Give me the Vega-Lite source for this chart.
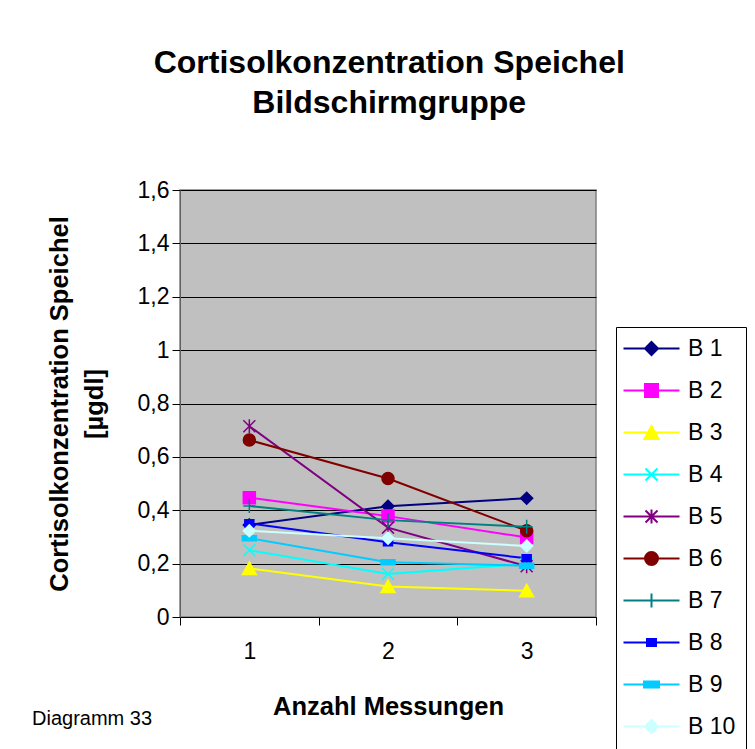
{
  "$schema": "https://vega.github.io/schema/vega-lite/v6.json",
  "background": "white",
  "padding": {"left": 31, "top": 47, "right": 0, "bottom": 0},
  "title": {
    "text": ["Cortisolkonzentration Speichel", "Bildschirmgruppe"],
    "font": "Liberation Sans",
    "fontSize": 32,
    "fontWeight": "bold",
    "lineHeight": 40,
    "color": "black",
    "anchor": "middle",
    "offset": 58,
    "dx": 0
  },
  "config": {
    "font": "Liberation Sans",
    "view": {"fill": "#C0C0C0", "stroke": "#808080", "strokeWidth": 1.5}
  },
  "data": {
    "values": [
      {"series": "B 1", "m": 1, "v": 0.345}, {"series": "B 1", "m": 2, "v": 0.415}, {"series": "B 1", "m": 3, "v": 0.445},
      {"series": "B 2", "m": 1, "v": 0.447}, {"series": "B 2", "m": 2, "v": 0.378}, {"series": "B 2", "m": 3, "v": 0.298},
      {"series": "B 3", "m": 1, "v": 0.182}, {"series": "B 3", "m": 2, "v": 0.114}, {"series": "B 3", "m": 3, "v": 0.098},
      {"series": "B 4", "m": 1, "v": 0.250}, {"series": "B 4", "m": 2, "v": 0.161}, {"series": "B 4", "m": 3, "v": 0.200},
      {"series": "B 5", "m": 1, "v": 0.715}, {"series": "B 5", "m": 2, "v": 0.335}, {"series": "B 5", "m": 3, "v": 0.190},
      {"series": "B 6", "m": 1, "v": 0.663}, {"series": "B 6", "m": 2, "v": 0.519}, {"series": "B 6", "m": 3, "v": 0.323},
      {"series": "B 7", "m": 1, "v": 0.416}, {"series": "B 7", "m": 2, "v": 0.363}, {"series": "B 7", "m": 3, "v": 0.338},
      {"series": "B 8", "m": 1, "v": 0.351}, {"series": "B 8", "m": 2, "v": 0.280}, {"series": "B 8", "m": 3, "v": 0.220},
      {"series": "B 9", "m": 1, "v": 0.295}, {"series": "B 9", "m": 2, "v": 0.205}, {"series": "B 9", "m": 3, "v": 0.192},
      {"series": "B 10", "m": 1, "v": 0.323}, {"series": "B 10", "m": 2, "v": 0.295}, {"series": "B 10", "m": 3, "v": 0.266}
    ]
  },
  "vconcat": [
    {
      "width": 416,
      "height": 427,
      "title": {
        "text": "Diagramm 33",
        "orient": "bottom",
        "anchor": "start",
        "font": "Liberation Sans",
        "fontSize": 20,
        "fontWeight": "normal",
        "color": "black",
        "dx": -15,
        "dy": -45
      },
      "encoding": {
        "x": {
          "field": "m",
          "type": "ordinal",
          "scale": {"type": "band", "paddingInner": 0, "paddingOuter": 0},
          "axis": {
            "title": "Anzahl Messungen",
            "titleFont": "Liberation Sans",
            "titleFontSize": 25.5,
            "titleFontWeight": "bold",
            "titleColor": "black",
            "titlePadding": 31,
            "labelAngle": 0,
            "labelFontSize": 23,
            "labelColor": "black",
            "labelPadding": 15,
            "tickBand": "extent",
            "tickSize": 8,
            "tickColor": "black",
            "domainColor": "black",
            "grid": false
          }
        },
        "y": {
          "field": "v",
          "type": "quantitative",
          "scale": {"domain": [0, 1.6], "nice": false, "zero": true},
          "axis": {
            "title": ["Cortisolkonzentration Speichel", "[µgdl]"],
            "titleFont": "Liberation Sans",
            "titleFontSize": 25.5,
            "titleFontWeight": "bold",
            "titleColor": "black",
            "titleLineHeight": 35,
            "titlePadding": 30,
            "values": [0, 0.2, 0.4, 0.6, 0.8, 1, 1.2, 1.4, 1.6],
            "labelExpr": "replace(format(datum.value, '.1~f'), '.', ',')",
            "labelFontSize": 23,
            "labelColor": "black",
            "labelPadding": 3,
            "tickSize": 8,
            "tickColor": "black",
            "domainColor": "#606060",
            "grid": true,
            "gridColor": "black",
            "gridWidth": 1,
            "gridOpacity": 1
          }
        }
      },
      "layer": [
        {
          "mark": {"type": "line", "strokeWidth": 2},
          "encoding": {
            "stroke": {
              "field": "series",
              "type": "nominal",
              "scale": {
                "domain": ["B 1", "B 2", "B 3", "B 4", "B 5", "B 6", "B 7", "B 8", "B 9", "B 10"],
                "range": ["#000080", "#FF00FF", "#FFFF00", "#00FFFF", "#800080", "#800000", "#008080", "#0000FF", "#00CCFF", "#CCFFFF"]
              },
              "legend": null
            },
            "detail": {"field": "series"}
          }
        },
        {
          "mark": {"type": "point", "size": 4, "strokeWidth": 1.5, "opacity": 1},
          "encoding": {
            "fill": {
              "field": "series",
              "type": "nominal",
              "scale": {
                "domain": ["B 1", "B 2", "B 3", "B 4", "B 5", "B 6", "B 7", "B 8", "B 9", "B 10"],
                "range": ["#000080", "#FF00FF", "#FFFF00", "#00FFFF", "#800080", "#800000", "#008080", "#0000FF", "#00CCFF", "#CCFFFF"]
              },
              "legend": null
            },
            "stroke": {
              "field": "series",
              "type": "nominal",
              "scale": {
                "domain": ["B 1", "B 2", "B 3", "B 4", "B 5", "B 6", "B 7", "B 8", "B 9", "B 10"],
                "range": ["#000080", "#FF00FF", "#FFFF00", "#00FFFF", "#800080", "#800000", "#008080", "#0000FF", "#00CCFF", "#CCFFFF"]
              },
              "legend": null
            },
            "shape": {
              "field": "series",
              "type": "nominal",
              "scale": {
                "domain": ["B 1", "B 2", "B 3", "B 4", "B 5", "B 6", "B 7", "B 8", "B 9", "B 10"],
                "range": [
                  "M0,-6L6,0L0,6L-6,0Z",
                  "M-6,-6H6V6H-6Z",
                  "M0,-6.5L7,6H-7Z",
                  "M-6,-6L6,6M-6,6L6,-6",
                  "M-6,-6L6,6M-6,6L6,-6M0,-7V7",
                  "M-6,0A6,6,0,1,0,6,0A6,6,0,1,0,-6,0Z",
                  "M-6,0H6M0,-7V7",
                  "M-4.5,-3.5H4.5V3.5H-4.5Z",
                  "M-7,-2.5H7V2.5H-7Z",
                  "M0,-6L6,0L0,6L-6,0Z"
                ]
              },
              "legend": null
            }
          }
        },
        {
          "mark": {"type": "point", "size": 4, "strokeWidth": 2, "opacity": 0},
          "encoding": {
            "fill": {
              "field": "series",
              "type": "nominal",
              "scale": {
                "domain": ["B 1", "B 2", "B 3", "B 4", "B 5", "B 6", "B 7", "B 8", "B 9", "B 10"],
                "range": ["#000080", "#FF00FF", "#FFFF00", "#00FFFF", "#800080", "#800000", "#008080", "#0000FF", "#00CCFF", "#CCFFFF"]
              },
              "legend": {
                "title": null, "orient": "none", "legendX": 436, "legendY": 137,
                "strokeColor": "black", "fillColor": "white", "padding": 10,
                "symbolSize": 4, "symbolStrokeWidth": 2, "symbolOpacity": 1,
                "symbolOffset": 14, "labelOffset": 25, "labelFontSize": 23,
                "labelFont": "Liberation Sans", "labelColor": "black", "rowPadding": 18
              }
            },
            "stroke": {
              "field": "series",
              "type": "nominal",
              "scale": {
                "domain": ["B 1", "B 2", "B 3", "B 4", "B 5", "B 6", "B 7", "B 8", "B 9", "B 10"],
                "range": ["#000080", "#FF00FF", "#FFFF00", "#00FFFF", "#800080", "#800000", "#008080", "#0000FF", "#00CCFF", "#CCFFFF"]
              },
              "legend": {
                "title": null, "orient": "none", "legendX": 436, "legendY": 137,
                "strokeColor": "black", "fillColor": "white", "padding": 10,
                "symbolSize": 4, "symbolStrokeWidth": 2, "symbolOpacity": 1,
                "symbolOffset": 14, "labelOffset": 25, "labelFontSize": 23,
                "labelFont": "Liberation Sans", "labelColor": "black", "rowPadding": 18
              }
            },
            "shape": {
              "field": "series",
              "type": "nominal",
              "scale": {
                "domain": ["B 1", "B 2", "B 3", "B 4", "B 5", "B 6", "B 7", "B 8", "B 9", "B 10"],
                "range": [
                  "M-28,0H28M0,-6.5L6.5,0L0,6.5L-6.5,0Z",
                  "M-28,0H28M-6.5,-6.5H6.5V6.5H-6.5Z",
                  "M-28,0H28M0,-6.5L7,6.5H-7Z",
                  "M-28,0H28M-6,-6L6,6M-6,6L6,-6",
                  "M-28,0H28M-6,-6L6,6M-6,6L6,-6M0,-7V7",
                  "M-28,0H28M-6.5,0A6.5,6.5,0,1,0,6.5,0A6.5,6.5,0,1,0,-6.5,0Z",
                  "M-28,0H28M0,-7V7",
                  "M-28,0H28M-4.5,-3.5H4.5V3.5H-4.5Z",
                  "M-28,0H28M-7.5,-3H7.5V3H-7.5Z",
                  "M-28,0H28M0,-6.5L6.5,0L0,6.5L-6.5,0Z"
                ]
              },
              "legend": {
                "title": null, "orient": "none", "legendX": 436, "legendY": 137,
                "strokeColor": "black", "fillColor": "white", "padding": 10,
                "symbolSize": 4, "symbolStrokeWidth": 2, "symbolOpacity": 1,
                "symbolOffset": 14, "labelOffset": 25, "labelFontSize": 23,
                "labelFont": "Liberation Sans", "labelColor": "black", "rowPadding": 18
              }
            }
          }
        }
      ],
      "resolve": {"scale": {"fill": "independent", "stroke": "independent", "shape": "independent"}}
    }
  ]
}
